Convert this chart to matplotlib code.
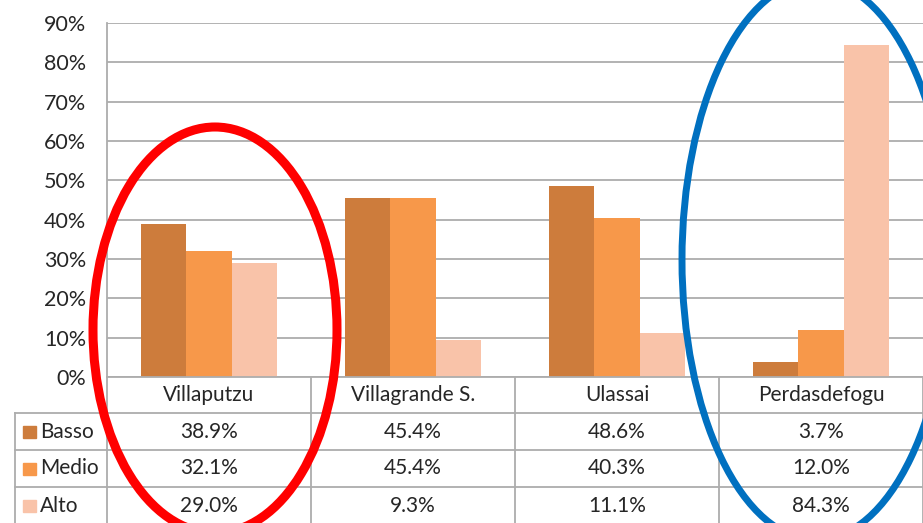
import matplotlib.pyplot as plt
import numpy as np
from matplotlib.patches import Ellipse, Rectangle
from matplotlib.lines import Line2D
from matplotlib.transforms import blended_transform_factory

categories = ["Villaputzu", "Villagrande S.", "Ulassai", "Perdasdefogu"]
series_names = ["Basso", "Medio", "Alto"]
basso = [38.9, 45.4, 48.6, 3.7]
medio = [32.1, 45.4, 40.3, 12.0]
alto = [29.0, 9.3, 11.1, 84.3]
colors = ["#CD7C3C", "#F7984A", "#F9C3A9"]

plt.rcParams['font.family'] = ['Lato', 'DejaVu Sans']
txt_color = "#262626"
grid_color = "#ADADAD"

W, H = 923, 523
fig = plt.figure(figsize=(W / 100, H / 100), dpi=100)
ax = fig.add_axes([107 / W, 1 - 377 / H, 1 - 107 / W, (377 - 23) / H])

x = np.arange(len(categories))
bw = 0.223
for i, vals in enumerate([basso, medio, alto]):
    ax.bar(x + (i - 1) * bw, np.array(vals) / 100, width=bw, color=colors[i], zorder=2)

ax.set_xlim(-0.5, len(categories) - 0.5)
ax.set_ylim(0, 0.9)
ax.set_yticks(np.arange(0, 0.91, 0.1))
ax.set_yticklabels([f"{int(round(v * 100))}%" for v in np.arange(0, 0.91, 0.1)])
ax.tick_params(axis="y", length=0, pad=15, labelsize=15.5, labelcolor=txt_color)
ax.set_xticks([])
ax.yaxis.grid(True, color=grid_color, lw=1.3, zorder=0)
ax.set_axisbelow(True)
for s in ["top", "right"]:
    ax.spines[s].set_visible(False)
for s in ["left", "bottom"]:
    ax.spines[s].set_color(grid_color)
    ax.spines[s].set_linewidth(1.3)

# data table below the axis
axh = 377 - 23
row_h = 37 / axh
hdr_h = 36 / axh
tr = blended_transform_factory(ax.transData, ax.transAxes)
trf = blended_transform_factory(fig.transFigure, ax.transAxes)
bottom = -(hdr_h + 3 * row_h) - 0.02

# vertical lines at category boundaries
for b in np.arange(-0.5, len(categories), 1.0):
    ax.add_line(Line2D([b, b], [0, bottom], transform=tr, color=grid_color, lw=1.3, clip_on=False))
# left border of legend column
ax.add_line(Line2D([15 / W, 15 / W], [-hdr_h, bottom], transform=trf, color=grid_color, lw=1.3, clip_on=False))
# horizontal lines
for r in range(3):
    yy = -hdr_h - r * row_h
    ax.add_line(Line2D([15 / W, 1], [yy, yy], transform=trf, color=grid_color, lw=1.3, clip_on=False))

# header labels
for i, c in enumerate(categories):
    ax.text(i, -hdr_h / 2, c, transform=tr, ha="center", va="center", fontsize=15, color=txt_color)

# rows
for r, (name, vals) in enumerate(zip(series_names, [basso, medio, alto])):
    yc = -hdr_h - (r + 0.5) * row_h
    ax.add_patch(Rectangle((23 / W, yc - 6 / axh), 13 / W, 12 / axh, transform=trf,
                           color=colors[r], clip_on=False))
    ax.text(40 / W, yc, name, transform=trf, ha="left", va="center", fontsize=15, color=txt_color)
    for i, v in enumerate(vals):
        ax.text(i, yc, f"{v:.1f}%", transform=tr, ha="center", va="center", fontsize=15, color=txt_color)

# highlight ellipses
fig.patches.append(Ellipse((215 / W, 1 - 330 / H), 244 / W, 406 / H, transform=fig.transFigure,
                           fill=False, edgecolor="#FF0000", lw=6.5, zorder=5))
fig.patches.append(Ellipse((816 / W, 1 - 260 / H), 268 / W, 560 / H, transform=fig.transFigure,
                           fill=False, edgecolor="#0070C0", lw=5, zorder=5))

fig.savefig("out.png", dpi=100)
